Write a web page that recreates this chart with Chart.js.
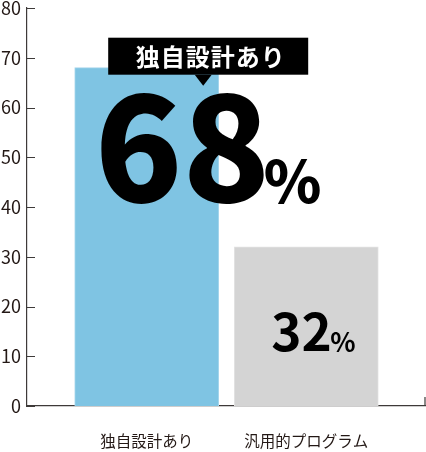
<!DOCTYPE html>
<html lang="ja">
<head>
    <meta charset="UTF-8">
    <title>独自設計あり 68%</title>
    <script src="https://cdn.jsdelivr.net/npm/chart.js"></script>
    <style>
        body { margin: 0; background: #fff; }
        .wrap { width: 426px; height: 452px; }
    </style>
</head>
<body>
    <div class="wrap"><canvas id="shareChart"></canvas></div>

    <script>
        const categories = ["独自設計あり", "汎用的プログラム"];
        const shares = [68, 32];
        const categoryPositions = [0, 1];
        const barColors = ["#7fc4e3", "#d4d4d4"];
        const barEdges = ["#a6d5ec", "#e2e2e2"];
        const calloutLabel = "独自設計あり";
        const yMin = 0, yMax = 80, yStep = 10;

        const FONT = '"Noto Sans CJK JP", "Noto Sans", sans-serif';
        const INK = "#3e3a39";

        // draw text so its glyph box has the given left, bottom and height
        function fitText(ctx, text, weight, left, bottom, height) {
            ctx.textAlign = "left";
            ctx.textBaseline = "alphabetic";
            ctx.font = weight + " 100px " + FONT;
            let m = ctx.measureText(text);
            let size = 100 * height / (m.actualBoundingBoxAscent + m.actualBoundingBoxDescent);
            ctx.font = weight + " " + size + "px " + FONT;
            m = ctx.measureText(text);
            ctx.fillText(text, left + m.actualBoundingBoxLeft, bottom - m.actualBoundingBoxDescent);
        }

        const axisMarks = {
            id: "axisMarks",
            afterDraw(chart) {
                let ctx = chart.ctx, area = chart.chartArea, y = chart.scales.y;
                ctx.save();
                ctx.strokeStyle = INK;
                ctx.lineWidth = 1.2;
                ctx.beginPath();
                y.ticks.forEach((t, i) => {
                    let py = Math.round(y.getPixelForTick(i)) + 0.5;
                    ctx.moveTo(area.left, py);
                    ctx.lineTo(area.left + 8, py);
                });
                ctx.moveTo(area.right - 1, area.bottom);
                ctx.lineTo(area.right - 1, area.bottom - 9);
                ctx.stroke();
                ctx.restore();
            }
        };

        const callouts = {
            id: "callouts",
            afterDatasetsDraw(chart) {
                let ctx = chart.ctx;
                let bars = chart.getDatasetMeta(0).data;
                let b1 = bars[0], b2 = bars[1];
                ctx.save();

                // black label box with pointer
                ctx.fillStyle = "#000";
                ctx.fillRect(b1.x - 38.5, b1.y - 30, 200, 37);
                ctx.beginPath();
                ctx.moveTo(b1.x + 48, b1.y + 7);
                ctx.lineTo(b1.x + 56.5, b1.y + 18);
                ctx.lineTo(b1.x + 65, b1.y + 7);
                ctx.closePath();
                ctx.fill();

                ctx.fillStyle = "#fff";
                ctx.font = "bold 24px " + FONT;
                ctx.letterSpacing = "1px";
                ctx.textAlign = "center";
                ctx.textBaseline = "middle";
                ctx.fillText(calloutLabel, b1.x + 64, b1.y - 11);
                ctx.letterSpacing = "0px";

                ctx.fillStyle = "#000";
                fitText(ctx, String(shares[0]), "900", b1.x - 46, b1.y + 136, 111);
                fitText(ctx, "%", "900", b1.x + 118, b1.y + 136, 45);
                fitText(ctx, String(shares[1]), "bold", b2.x - 34, b2.y + 105, 39);
                fitText(ctx, "%", "bold", b2.x + 24, b2.y + 105, 20);
                ctx.restore();
            }
        };

        new Chart(document.getElementById("shareChart"), {
            type: "bar",
            data: {
                datasets: [{
                    data: categoryPositions.map((x, i) => ({ x: x, y: shares[i] })),
                    backgroundColor: barColors,
                    borderColor: barEdges,
                    borderWidth: 1,
                    barThickness: 144
                }]
            },
            options: {
                responsive: true,
                maintainAspectRatio: false,
                animation: false,
                events: [],
                layout: { padding: { top: 8, left: 0, right: 0, bottom: 0 } },
                plugins: { legend: { display: false }, tooltip: { enabled: false } },
                scales: {
                    x: {
                        type: "linear",
                        offset: false,
                        min: -0.75,
                        max: 1.75,
                        grid: { display: false, drawTicks: false },
                        border: { color: INK, width: 1.2 },
                        afterBuildTicks: s => { s.ticks = categoryPositions.map(v => ({ value: v })); },
                        afterFit: s => { s.height = 46; },
                        ticks: {
                            padding: 26,
                            color: "#231815",
                            font: { family: FONT, size: 15.5 },
                            callback: v => categories[categoryPositions.indexOf(v)]
                        }
                    },
                    y: {
                        min: yMin,
                        max: yMax,
                        grid: { display: false, drawTicks: false },
                        border: { color: INK, width: 1.2 },
                        afterFit: s => { s.width = 27; s.paddingTop = 0; s.paddingBottom = 0; },
                        ticks: {
                            stepSize: yStep,
                            padding: 6,
                            color: "#231815",
                            font: { family: FONT, size: 18 }
                        }
                    }
                }
            },
            plugins: [axisMarks, callouts]
        });
    </script>
</body>
</html>
